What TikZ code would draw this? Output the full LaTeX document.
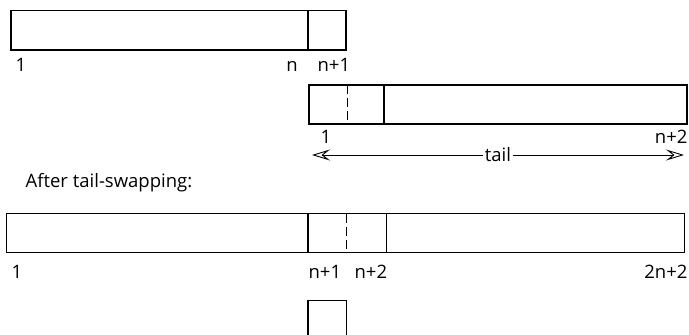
\documentclass[tikz,border=0pt]{standalone}
\usepackage{fontspec}
\setmainfont{Open Sans}
\usetikzlibrary{arrows.meta}
\tikzset{
	lbl/.style={font=\fontsize{18.5}{22}\selectfont, inner sep=0pt},
	cut/.style={dash pattern=on 9pt off 4pt}
}

\begin{document}
\begin{tikzpicture}[x=1pt, y=-1pt, line width=1.2pt, >={Stealth[open, length=18pt, width=11pt, inset=7pt]}]
		\useasboundingbox (0,0) rectangle (689,335);

		% First array
		\draw (11,10.5) rectangle (346,50);
		\draw (308,10.5) -- (308,50);
		\node[lbl, anchor=base] at (21,71.5) {1};
		\node[lbl, anchor=base] at (292,71.5) {n};
		\node[lbl, anchor=base west] at (317,71.5) {n+1};

		% Second array
		\draw (309,85) rectangle (687,124);
		\draw[cut] (347.5,85) -- (347.5,124);
		\draw (384,85) -- (384,124);
		\node[lbl, anchor=base] at (326,143) {1};
		\node[lbl, anchor=base east] at (688,143) {n+2};

		% Tail
		\coordinate (tailL) at (312,155);
		\coordinate (tailR) at (684,155);
		\draw[<->, line width=0.9pt] (tailL) -- (tailR) node[lbl, midway, fill=white, inner xsep=2pt] {tail};

		\node[lbl, anchor=base west] at (25,187) {After tail-swapping:};

		% Merged array
		\draw (6.5,213.5) rectangle (684.5,252.5);
		\draw (308,213.5) -- (308,252.5);
		\draw[cut] (346.5,213.5) -- (346.5,252.5);
		\draw (386.5,213.5) -- (386.5,252.5);
		\node[lbl, anchor=base] at (17,278) {1};
		\node[lbl, anchor=base west] at (308,278) {n+1};
		\node[lbl, anchor=base west] at (354,278) {n+2};
		\node[lbl, anchor=base east] at (688,278) {2n+2};

		% Leftover cell
		\draw (308,336) -- (308,300.5) -- (346.5,300.5) -- (346.5,336);
	\end{tikzpicture}
\end{document}
